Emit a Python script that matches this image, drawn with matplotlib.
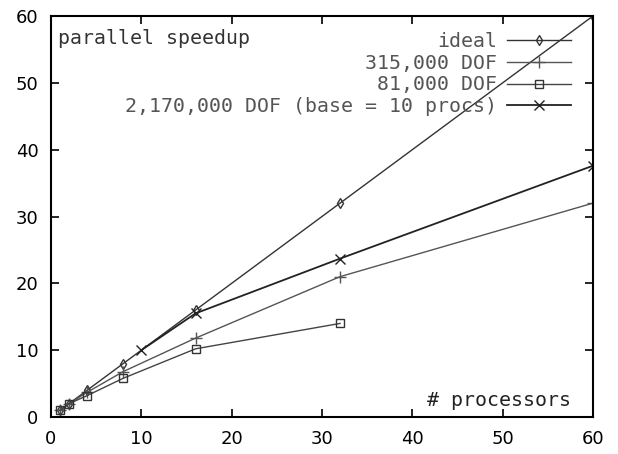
import matplotlib
matplotlib.use("Agg")
import matplotlib.pyplot as plt

procs_ideal = [1, 2, 4, 8, 16, 32, 60]
speed_ideal = [1, 2, 4, 8, 16, 32, 60]

procs_315k = [1, 2, 4, 8, 16, 32, 60]
speed_315k = [1, 2, 3.7, 6.8, 11.8, 21.0, 32.0]

procs_81k = [1, 2, 4, 8, 16, 32]
speed_81k = [1, 2, 3.2, 5.8, 10.2, 14.0]

procs_2m = [10, 16, 32, 60]
speed_2m = [10, 15.5, 23.7, 37.6]

labels = ["ideal", "315,000 DOF", "81,000 DOF", "2,170,000 DOF (base = 10 procs)"]
xticks = [0, 10, 20, 30, 40, 50, 60]
yticks = [0, 10, 20, 30, 40, 50, 60]

fig = plt.figure(figsize=(6.18, 4.54), dpi=100)
ax = fig.add_axes([51/618, 37/454, 542/618, 401/454])

mono = "DejaVu Sans Mono"
ax.plot(procs_ideal, speed_ideal, color="#333333", lw=1.0, marker="d", ms=5,
        mfc="none", mec="#333333", label=labels[0])
ax.plot(procs_315k, speed_315k, color="#555555", lw=1.0, marker="+", ms=8,
        mec="#555555", label=labels[1])
ax.plot(procs_81k, speed_81k, color="#444444", lw=1.0, marker="s", ms=6,
        mfc="none", mec="#333333", label=labels[2])
ax.plot(procs_2m, speed_2m, color="#222222", lw=1.3, marker="x", ms=7,
        mec="#222222", label=labels[3])

ax.set_xlim(0, 60)
ax.set_ylim(0, 60)
ax.set_xticks(xticks)
ax.set_yticks(yticks)
ax.tick_params(direction="in", top=True, right=True, length=6, width=1.2,
               labelsize=13, pad=9)
for s in ax.spines.values():
    s.set_linewidth(1.5)

ax.text(0.012, 0.968, "parallel speedup", transform=ax.transAxes, ha="left",
        va="top", family=mono, fontsize=14.3, color="#333333")
ax.text(0.96, 0.018, "# processors", transform=ax.transAxes, ha="right",
        va="bottom", family=mono, fontsize=14.3, color="#222222")

leg = ax.legend(loc="upper right", markerfirst=False, frameon=False,
                prop={"family": mono, "size": 14.3}, labelspacing=0.14,
                handlelength=3.2, handletextpad=0.5, borderaxespad=0.3,
                bbox_to_anchor=(0.985, 0.995))
for t in leg.get_texts():
    t.set_color("#555555")

fig.savefig("out.png", dpi=100)
